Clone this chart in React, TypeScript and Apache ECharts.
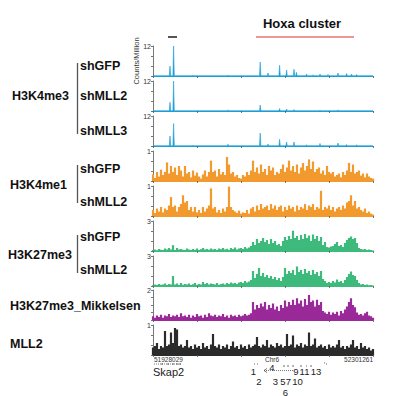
import React, { useEffect, useRef } from "react";
import * as echarts from "echarts";

// ---- data (x positions on a 0..110 scale across the shown Chr6 window) ----
const REGION_START = "51928029";
const REGION_END = "52301261";
const REGION_CHR = "Chr6";

// H3K4me3 tracks: sparse peaks [position, counts/million]
const H3K4ME3_SHGFP = [[8.5,4],[10.3,12],[20,0.3],[37.5,0.4],[53.6,5.6],[57.5,1.2],[63.3,4.3],[66.8,2.4],[70.5,2.7],[71.7,1.5],[76.8,0.8],[80,0.5],[83.5,0.8],[87.5,0.6],[92.5,1.2],[96.8,1.0],[99.3,0.8],[101.8,0.6]];
const H3K4ME3_SHMLL2 = [[8.5,3.5],[10.3,12],[37.5,0.5],[53.6,2.4],[63.3,1.0],[66.8,0.8],[70.5,0.6],[83.5,0.4],[92.5,0.5]];
const H3K4ME3_SHMLL3 = [[8.5,4],[10.3,9],[20,0.3],[37.5,0.7],[53.6,5.2],[57.5,0.8],[63.3,2.7],[66.8,1.6],[70.5,1.6],[76.8,0.5],[83.5,1.0],[92.5,1.2],[96.8,0.6],[101.8,0.5]];

const H3K4ME1_SHGFP = [
  0.22,0.1,0.3,0.15,0.38,0.2,0.3,0.62,0.25,0.5,
  0.3,0.45,0.2,0.5,0.35,0.15,0.5,0.25,0.3,0.12,
  0.35,0.18,0.28,0.15,0.08,0.22,0.35,0.15,0.3,0.68,
  0.3,0.35,0.15,0.4,0.22,0.3,0.2,0.8,0.55,0.25,
  0.3,0.15,0.2,0.1,0.08,0.2,0.15,0.3,0.2,0.35,
  0.68,0.3,0.45,0.25,0.55,0.3,0.4,0.2,0.5,0.35,
  0.45,0.2,0.3,0.25,0.4,0.55,0.3,0.45,0.68,0.35,
  0.5,0.3,0.55,0.25,0.45,0.6,0.35,0.5,0.72,0.4,
  0.65,0.3,0.4,0.45,0.25,0.35,0.2,0.5,0.3,0.25,
  0.3,0.15,0.2,0.25,0.12,0.3,0.2,0.35,0.6,0.3,
  0.55,0.25,0.3,0.35,0.18,0.25,0.12,0.25,0.15,0.1,0.08,
];
const H3K4ME1_SHMLL2 = [
  0.2,0.1,0.25,0.15,0.3,0.12,0.25,0.2,0.35,0.63,
  0.3,0.35,0.15,0.3,0.4,0.69,0.45,0.5,0.2,0.3,
  0.15,0.3,0.12,0.2,0.1,0.3,0.15,0.25,0.35,0.92,
  0.25,0.3,0.12,0.2,0.1,0.25,0.15,0.3,0.98,0.3,
  0.2,0.15,0.1,0.18,0.08,0.12,0.1,0.2,0.08,0.25,
  0.3,0.15,0.35,0.2,0.4,0.25,0.3,0.35,0.2,0.4,
  0.25,0.35,0.2,0.3,0.35,0.15,0.3,0.2,0.35,0.25,
  0.3,0.15,0.35,0.2,0.3,0.25,0.4,0.2,0.35,0.3,
  0.4,0.2,0.3,0.25,0.84,0.2,0.3,0.25,0.35,0.2,
  0.3,0.15,0.25,0.3,0.2,0.35,0.25,0.45,0.5,0.69,
  0.35,0.5,0.25,0.3,0.2,0.15,0.25,0.1,0.15,0.08,0.05,
];
const H3K27ME3_SHGFP = [
  0.1,0.15,0.08,0.2,0.12,0.1,0.25,0.15,0.3,0.15,
  0.58,0.1,0.3,0.15,0.2,0.12,0.1,0.25,0.15,0.1,
  0.2,0.12,0.25,0.1,0.18,0.3,0.15,0.2,0.12,0.25,
  0.15,0.2,0.1,0.25,0.18,0.3,0.15,0.22,0.12,0.3,
  0.2,0.35,0.15,0.25,0.3,0.2,0.4,0.25,0.35,0.5,
  0.9,0.6,1.2,0.8,1.0,1.3,0.9,1.1,0.7,1.2,
  0.8,1.0,0.6,0.7,0.5,1.0,1.4,1.1,1.5,1.2,
  2.03,1.3,1.5,1.1,1.6,1.2,1.7,1.3,1.55,1.0,
  1.65,1.2,1.5,1.0,1.4,0.6,0.9,0.4,0.35,0.45,
  0.5,0.7,0.9,0.5,0.6,0.4,0.8,1.1,1.3,1.45,
  1.2,1.3,0.8,0.3,0.2,0.15,0.2,0.1,0.15,0.1,0.05,
];
const H3K27ME3_SHMLL2 = [
  0.08,0.15,0.1,0.2,0.12,0.15,0.25,0.1,0.2,0.15,
  1.0,0.15,0.25,0.1,0.3,0.12,0.2,0.15,0.25,0.1,
  0.18,0.3,0.12,0.2,0.15,0.4,0.2,0.3,0.15,0.25,
  0.2,0.15,0.3,0.12,0.2,0.25,0.15,0.3,0.2,0.35,
  0.25,0.3,0.2,0.35,0.4,0.3,0.5,0.35,0.45,0.6,
  1.5,0.8,1.2,1.8,1.0,1.3,0.9,1.1,0.8,1.0,
  0.7,0.9,0.6,0.8,0.5,0.9,1.8,1.2,1.5,1.3,
  1.6,1.1,1.95,1.4,1.6,1.2,1.7,1.3,1.5,1.1,
  1.6,1.2,1.4,1.0,1.5,0.7,0.5,0.3,0.4,0.3,
  0.5,0.35,0.65,0.4,0.5,0.3,0.6,0.9,1.2,1.45,
  1.1,1.0,0.6,0.3,0.15,0.2,0.1,0.15,0.08,0.1,0.05,
];
const H3K27ME3_MIKKELSEN = [
  0.25,0.15,0.3,0.2,0.35,0.15,0.3,0.25,0.4,0.2,
  0.3,0.25,0.35,0.2,0.45,0.25,0.3,0.2,0.35,0.15,
  0.3,0.2,0.4,0.25,0.3,0.15,0.35,0.2,0.45,0.3,
  0.25,0.35,0.2,0.3,0.25,0.4,0.2,0.3,0.15,0.35,
  0.25,0.3,0.2,0.35,0.25,0.3,0.4,0.3,0.35,0.45,
  1.2,0.7,1.0,0.8,1.1,0.9,1.2,0.7,1.0,0.8,
  1.1,0.7,0.9,0.6,1.0,0.8,1.3,0.9,1.2,1.0,
  1.35,1.0,1.45,1.1,1.3,0.9,1.4,1.0,1.67,1.2,
  1.3,0.9,1.35,1.0,1.2,0.6,0.5,0.4,0.55,0.35,
  0.5,0.4,0.55,0.3,0.6,0.45,0.7,0.9,1.2,1.45,
  1.0,0.85,0.5,0.35,0.4,0.3,0.45,0.55,0.3,0.25,0.15,
];
const MLL2_SIGNAL = [
  0.25,0.3,0.4,0.2,0.3,0.25,0.8,0.3,0.35,0.75,
  0.4,0.9,0.85,0.3,0.35,0.25,0.3,0.5,0.25,0.3,
  0.2,0.35,0.25,0.3,0.2,0.4,0.25,0.3,0.2,0.35,
  0.7,0.3,0.25,0.35,0.2,0.3,0.25,0.35,0.2,0.3,
  0.45,0.25,0.3,0.2,0.35,0.25,0.3,0.2,0.35,0.25,
  0.3,0.35,0.6,0.3,0.25,0.35,0.3,0.5,0.25,0.35,
  0.3,0.25,0.4,0.3,0.35,0.25,0.3,0.7,0.3,0.35,
  0.65,0.25,0.35,0.3,0.4,0.25,0.35,0.3,0.75,0.3,
  0.35,0.55,0.25,0.3,0.35,0.25,0.3,0.2,0.35,0.25,
  0.3,0.25,0.35,0.5,0.25,0.3,0.2,0.3,0.25,0.35,
  0.5,0.25,0.3,0.2,0.4,0.25,0.3,0.2,0.25,0.15,0.2,
];

const Y_MAX = [12, 12, 12, 1, 1, 3, 3, 2, 1];

const BLUE = "#1f9fd6";
const ORANGE = "#f29a2e";
const GREEN = "#3dba7c";
const PURPLE = "#9a2a9a";
const BLACK = "#2b2b2b";

const X_MAX = 110;
const FONT = '"Liberation Sans", Arial, Helvetica, sans-serif';

function spikeData(peaks: number[][]) {
  const base = 0.12;
  const d: number[][] = [[0, base]];
  peaks.forEach(([p, v]) => {
    d.push([p - 0.35, base], [p, v], [p + 0.35, base]);
  });
  d.push([X_MAX, base]);
  return d;
}
function denseData(vals: number[]) {
  return vals.map((v, i) => [i, v]);
}

const TRACKS = [
  { data: spikeData(H3K4ME3_SHGFP), color: BLUE, kind: "line" },
  { data: spikeData(H3K4ME3_SHMLL2), color: BLUE, kind: "line" },
  { data: spikeData(H3K4ME3_SHMLL3), color: BLUE, kind: "line" },
  { data: denseData(H3K4ME1_SHGFP), color: ORANGE, kind: "bar" },
  { data: denseData(H3K4ME1_SHMLL2), color: ORANGE, kind: "bar" },
  { data: denseData(H3K27ME3_SHGFP), color: GREEN, kind: "bar" },
  { data: denseData(H3K27ME3_SHMLL2), color: GREEN, kind: "bar" },
  { data: denseData(H3K27ME3_MIKKELSEN), color: PURPLE, kind: "bar" },
  { data: denseData(MLL2_SIGNAL), color: BLACK, kind: "bar" },
];
const TRACK_TOPS = [46, 81, 116, 151, 186, 221, 256, 290, 325];

function txt(text: string, x: number, y: number, size: number, opts: any = {}) {
  return {
    type: "text",
    x,
    y,
    rotation: opts.rotation || 0,
    style: {
      text,
      fill: opts.fill || "#111",
      font: `${opts.bold ? "bold " : ""}${size}px ${FONT}`,
      align: opts.align || "left",
      verticalAlign: "middle",
    },
    silent: true,
  };
}
function ln(x1: number, y1: number, x2: number, y2: number, color: string, width = 1, dash?: number[]) {
  return {
    type: "line",
    shape: { x1, y1, x2, y2 },
    style: { stroke: color, lineWidth: width, lineDash: dash },
    silent: true,
  };
}

export default function App() {
  const ref = useRef<HTMLDivElement>(null);
  useEffect(() => {
    if (!ref.current) return;
    const chart = echarts.init(ref.current, undefined, { renderer: "svg" });
    const grids = TRACK_TOPS.map((t) => ({ left: 153, width: 220, top: t, height: 30 }));
    const xAxes = TRACKS.map((tr, i) => ({
      type: "value",
      gridIndex: i,
      min: 0,
      max: X_MAX,
      interval: 22,
      axisLine: { show: true, lineStyle: { color: tr.color, width: 1.2 } },
      axisTick: { show: true, length: 2, lineStyle: { color: "#555", width: 0.8 } },
      axisLabel: { show: false },
      splitLine: { show: false },
    }));
    const yAxes = Y_MAX.map((mx, i) => ({
      type: "value",
      gridIndex: i,
      min: 0,
      max: mx,
      interval: mx === 2 ? 0.5 : mx / 3,
      axisLine: { show: true, lineStyle: { color: "#555", width: 0.8 } },
      axisTick: { show: true, length: 2, lineStyle: { color: "#555", width: 0.8 } },
      axisLabel: {
        show: true,
        fontSize: 7,
        color: "#333",
        fontFamily: FONT,
        margin: 2,
        formatter: (v: number) => (Math.abs(v - mx) < 1e-6 ? String(mx) : ""),
      },
      splitLine: { show: false },
    }));
    const series = TRACKS.map((tr, i) =>
      tr.kind === "line"
        ? {
            type: "line",
            xAxisIndex: i,
            yAxisIndex: i,
            data: tr.data,
            symbol: "none",
            silent: true,
            lineStyle: { color: tr.color, width: 0.6 },
            areaStyle: { color: tr.color, opacity: 1 },
            clip: true,
          }
        : {
            type: "bar",
            xAxisIndex: i,
            yAxisIndex: i,
            data: tr.data,
            barWidth: 2.2,
            silent: true,
            itemStyle: { color: tr.color },
            clip: true,
          }
    );

    const graphics: any[] = [
      txt("Hoxa cluster", 302, 23, 13, { bold: true, align: "center" }),
      ln(256, 37, 354, 37, "#d8312b", 1),
      ln(168, 37, 177, 37, "#555", 2),
      txt("Counts/Million", 136, 61, 7.5, { align: "center", rotation: Math.PI / 2, fill: "#333" }),
      // left labels
      txt("H3K4me3", 12, 96, 12.5, { bold: true }),
      ln(77.5, 63, 77.5, 134, "#555", 1.3),
      txt("shGFP", 80, 66, 12.5, { bold: true }),
      txt("shMLL2", 80, 96, 12.5, { bold: true }),
      txt("shMLL3", 80, 131, 12.5, { bold: true }),
      txt("H3K4me1", 10, 185, 12.5, { bold: true }),
      ln(77.5, 165, 77.5, 203, "#555", 1.3),
      txt("shGFP", 80, 169, 12.5, { bold: true }),
      txt("shMLL2", 80, 202, 12.5, { bold: true }),
      txt("H3K27me3", 8, 255, 12.5, { bold: true }),
      ln(77.5, 235, 77.5, 273, "#555", 1.3),
      txt("shGFP", 80, 237, 12.5, { bold: true }),
      txt("shMLL2", 80, 270, 12.5, { bold: true }),
      txt("H3K27me3_Mikkelsen", 10, 306, 12.5, { bold: true }),
      txt("MLL2", 10, 344, 12.5, { bold: true }),
      // coordinates
      txt(REGION_START, 154, 359, 6.5, { fill: "#333" }),
      txt(REGION_CHR, 272, 359, 6.5, { fill: "#333", align: "center" }),
      txt(REGION_END, 373, 359, 6.5, { fill: "#333", align: "right" }),
      // Skap2 gene
      ln(154, 364, 182, 364, "#444", 0.7, [1, 1]),
      ln(162, 363, 162, 365, "#444", 0.8),
      ln(168, 363, 168, 365, "#444", 0.8),
      ln(173, 363, 173, 365, "#444", 0.8),
      ln(177, 363, 177, 365, "#444", 0.8),
      ln(180, 363, 180, 365, "#444", 0.8),
      txt("Skap2", 153, 372, 11, { fill: "#222" }),
      // Hoxa genes
      ln(264, 370.5, 294, 370.5, "#444", 0.7, [1, 1]),
      { type: "polyline", shape: { points: [[267, 368.5], [264, 370.5], [267, 372.5]] }, style: { stroke: "#444", lineWidth: 0.7, fill: null }, silent: true },
      ln(254, 364, 255, 364, "#444", 0.8),
      ln(257, 364, 258, 364, "#444", 0.8),
      ln(283, 366, 285, 366, "#444", 0.8),
      ln(287, 366, 289, 366, "#444", 0.8),
      ln(292, 366, 294, 366, "#444", 0.8),
      ln(300, 366, 302, 366, "#444", 0.8),
      ln(306, 366, 307, 366, "#444", 0.8),
      ln(310, 366, 312, 366, "#444", 0.8),
      ln(324, 363, 325, 363, "#444", 0.8),
      ln(326, 364, 327, 364, "#444", 0.8),
      txt("1", 253.5, 371, 9.5, { fill: "#222", align: "center" }),
      txt("2", 259, 381.5, 9.5, { fill: "#222", align: "center" }),
      txt("4", 272, 367.5, 9.5, { fill: "#222", align: "center" }),
      txt("3", 275.5, 381.5, 9.5, { fill: "#222", align: "center" }),
      txt("5", 283, 381.5, 9.5, { fill: "#222", align: "center" }),
      txt("7", 288.5, 381.5, 9.5, { fill: "#222", align: "center" }),
      txt("10", 297.5, 381.5, 9.5, { fill: "#222", align: "center" }),
      txt("6", 285.5, 392, 9.5, { fill: "#222", align: "center" }),
      txt("9", 296, 371, 9.5, { fill: "#222", align: "center" }),
      txt("11", 304.5, 371, 9.5, { fill: "#222", align: "center" }),
      txt("13", 316, 371, 9.5, { fill: "#222", align: "center" }),
    ];

    chart.setOption({
      animation: false,
      backgroundColor: "#fff",
      grid: grids,
      xAxis: xAxes,
      yAxis: yAxes,
      series,
      graphic: graphics,
    } as any);
    return () => chart.dispose();
  }, []);
  return (
    <div
      ref={ref}
      style={{ position: "fixed", left: 0, top: 0, width: 400, height: 396 }}
    />
  );
}
